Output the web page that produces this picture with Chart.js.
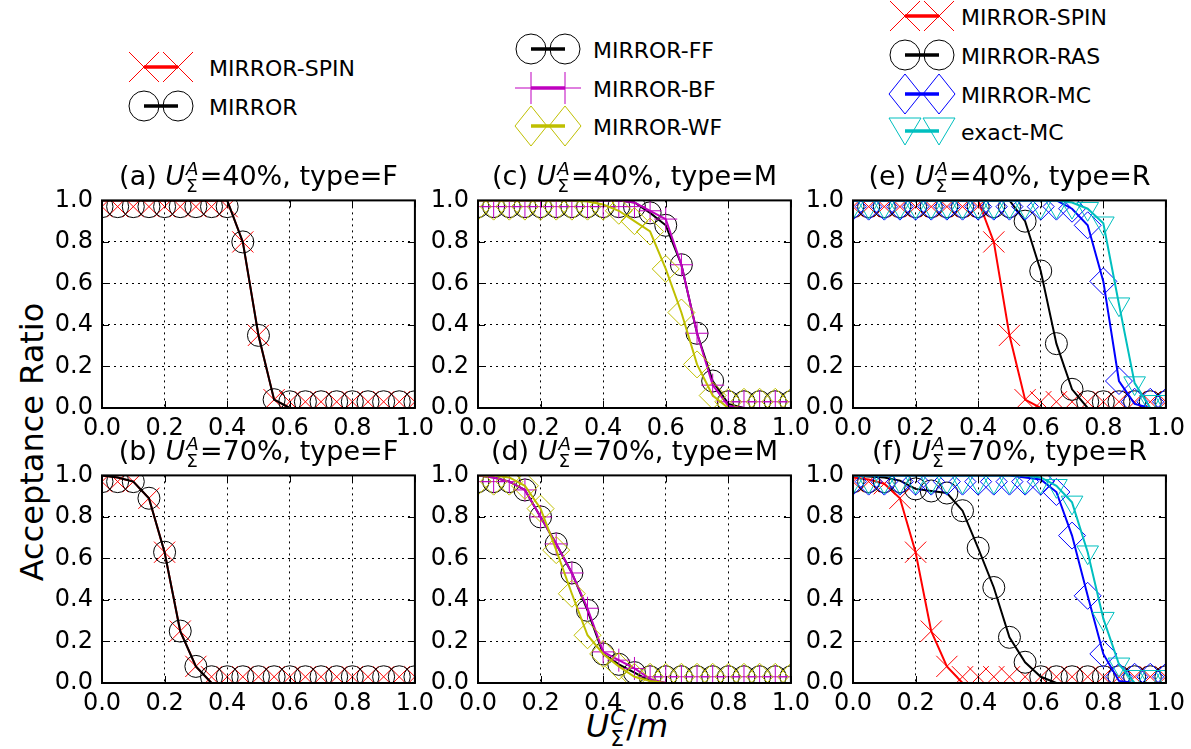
<!DOCTYPE html>
<html>
<head>
<meta charset="utf-8">
<script src="https://cdn.jsdelivr.net/npm/chart.js@4.4.1/dist/chart.umd.min.js"></script>
<style>
  body { margin: 0; background: #fff; }
  #fig { position: relative; width: 1191px; height: 749px; overflow: hidden; font-family: "DejaVu Sans", sans-serif; color: #000; }
  canvas { position: absolute; }
  .title { position: absolute; text-align: center; font-size: 27px; line-height: 30px; white-space: nowrap; }
  .ss { display: inline-block; vertical-align: -0.42em; font-size: 0.68em; line-height: 0.95; margin: 0 1px; text-align: left; }
  .ss span { display: block; }
  .ss .up { font-style: italic; }
  .leg { position: absolute; font-size: 22px; white-space: nowrap; }
  .leg .row { position: absolute; left: 0; height: 40px; display: flex; align-items: center; }
  #ylab { position: absolute; left: 32px; top: 442px; font-size: 32px; transform: translate(-50%, -50%) rotate(-90deg); white-space: nowrap; }
  #xlab { position: absolute; left: 627px; top: 708px; font-size: 32px; line-height: 37px; transform: translateX(-50%); white-space: nowrap; }
</style>
</head>
<body>
<div id="fig">
  <div id="ylab">Acceptance Ratio</div>
  <div id="xlab"><i>U</i><span class="ss"><span class="up">C</span><span>Σ</span></span>/<i>m</i></div>
</div>
<script>
// x positions of the samples (U_Σ^C / m)
const xs = [0, 0.05, 0.1, 0.15, 0.2, 0.25, 0.3, 0.35, 0.4, 0.45, 0.5, 0.55, 0.6, 0.65, 0.7, 0.75, 0.8, 0.85, 0.9, 0.95, 1.0];
const tickVals = [0, 0.2, 0.4, 0.6, 0.8, 1.0];

// (a) U_A = 40%, type F
const spinA   = [1, 1, 1, 1, 1, 1, 1, 1, 1, 0.8, 0.35, 0.04, 0, 0, 0, 0, 0, 0, 0, 0, 0];
const mirrorA = [1, 1, 1, 1, 1, 1, 1, 1, 1, 0.8, 0.35, 0.04, 0, 0, 0, 0, 0, 0, 0, 0, 0];
// (b) U_A = 70%, type F
const spinB   = [1, 0.99, 0.97, 0.89, 0.63, 0.25, 0.08, 0, 0, 0, 0, 0, 0, 0, 0, 0, 0, 0, 0, 0, 0];
const mirrorB = [1, 0.99, 0.97, 0.89, 0.63, 0.25, 0.08, 0, 0, 0, 0, 0, 0, 0, 0, 0, 0, 0, 0, 0, 0];
// (c) U_A = 40%, type M
const ffC = [1, 1, 1, 1, 1, 1, 1, 1, 1, 1, 0.99, 0.94, 0.88, 0.69, 0.36, 0.13, 0.02, 0, 0, 0, 0];
const bfC = [1, 1, 1, 1, 1, 1, 1, 1, 1, 1, 0.99, 0.95, 0.91, 0.69, 0.36, 0.11, 0.01, 0, 0, 0, 0];
const wfC = [1, 1, 1, 1, 1, 1, 1, 0.995, 0.98, 0.95, 0.9, 0.85, 0.67, 0.46, 0.21, 0.06, 0, 0, 0, 0, 0];
// (d) U_A = 70%, type M
const ffD = [1, 0.99, 0.97, 0.93, 0.8, 0.67, 0.53, 0.35, 0.14, 0.09, 0.05, 0.01, 0, 0, 0, 0, 0, 0, 0, 0, 0];
const bfD = [1, 0.99, 0.97, 0.93, 0.8, 0.67, 0.53, 0.36, 0.15, 0.11, 0.07, 0.02, 0, 0, 0, 0, 0, 0, 0, 0, 0];
const wfD = [1, 1, 0.99, 0.95, 0.84, 0.64, 0.43, 0.23, 0.14, 0.08, 0.03, 0.01, 0, 0, 0, 0, 0, 0, 0, 0, 0];
// (e) U_A = 40%, type R
const spinE  = [1, 1, 1, 1, 1, 1, 1, 1, 1, 0.8, 0.35, 0.04, 0, 0, 0, 0, 0, 0, 0, 0, 0];
const rasE   = [1, 1, 1, 1, 1, 1, 1, 1, 1, 1, 1, 0.9, 0.66, 0.31, 0.09, 0, 0, 0, 0, 0, 0];
const mcE    = [1, 1, 1, 1, 1, 1, 1, 1, 1, 1, 1, 1, 1, 1, 0.96, 0.88, 0.61, 0.13, 0.02, 0, 0];
const exactE = [1, 1, 1, 1, 1, 1, 1, 1, 1, 1, 1, 1, 1, 1, 0.99, 0.96, 0.89, 0.5, 0.12, 0, 0];
// (f) U_A = 70%, type R
const spinF  = [0.99, 0.98, 0.96, 0.89, 0.63, 0.25, 0.08, 0, 0, 0, 0, 0, 0, 0, 0, 0, 0, 0, 0, 0, 0];
const rasF   = [1, 0.995, 0.99, 0.975, 0.935, 0.925, 0.915, 0.83, 0.65, 0.46, 0.22, 0.1, 0.03, 0, 0, 0, 0, 0, 0, 0, 0];
const mcF    = [1, 1, 1, 1, 1, 1, 1, 1, 1, 1, 1, 0.99, 0.98, 0.92, 0.71, 0.42, 0.14, 0.01, 0, 0, 0];
const exactF = [1, 1, 1, 1, 1, 1, 1, 1, 1, 1, 1, 1, 0.99, 0.95, 0.87, 0.63, 0.31, 0.09, 0, 0, 0];

const RED = '#ff0000', BLACK = '#000000', MAG = '#bf00bf', YEL = '#bfbf00', BLUE = '#0000ff', CYAN = '#00bfbf';

// marker look (matplotlib x, o, +, D, v)
const MARKERS = {
  x: { pointStyle: 'crossRot', pointRadius: 15, pointRotation: 0 },
  o: { pointStyle: 'circle', pointRadius: 11, pointRotation: 0 },
  '+': { pointStyle: 'cross', pointRadius: 11.5, pointRotation: 0 },
  D: { pointStyle: 'rectRot', pointRadius: 13.5, pointRotation: 0 },
  v: { pointStyle: 'triangle', pointRadius: 12.5, pointRotation: 180 },
};

const colL = [102, 478, 853];
const rowT = [197, 472];
const AXW = 313, AXH = 211;

const panels = [
  { tag: '(a)', pct: '40%', type: 'F', col: 0, row: 0, series: [
    { name: 'MIRROR-SPIN', vals: spinA, color: RED, m: 'x' },
    { name: 'MIRROR', vals: mirrorA, color: BLACK, m: 'o' }] },
  { tag: '(b)', pct: '70%', type: 'F', col: 0, row: 1, series: [
    { name: 'MIRROR-SPIN', vals: spinB, color: RED, m: 'x' },
    { name: 'MIRROR', vals: mirrorB, color: BLACK, m: 'o' }] },
  { tag: '(c)', pct: '40%', type: 'M', col: 1, row: 0, series: [
    { name: 'MIRROR-FF', vals: ffC, color: BLACK, m: 'o' },
    { name: 'MIRROR-BF', vals: bfC, color: MAG, m: '+' },
    { name: 'MIRROR-WF', vals: wfC, color: YEL, m: 'D' }] },
  { tag: '(d)', pct: '70%', type: 'M', col: 1, row: 1, series: [
    { name: 'MIRROR-FF', vals: ffD, color: BLACK, m: 'o' },
    { name: 'MIRROR-BF', vals: bfD, color: MAG, m: '+' },
    { name: 'MIRROR-WF', vals: wfD, color: YEL, m: 'D' }] },
  { tag: '(e)', pct: '40%', type: 'R', col: 2, row: 0, series: [
    { name: 'MIRROR-SPIN', vals: spinE, color: RED, m: 'x' },
    { name: 'MIRROR-RAS', vals: rasE, color: BLACK, m: 'o' },
    { name: 'MIRROR-MC', vals: mcE, color: BLUE, m: 'D' },
    { name: 'exact-MC', vals: exactE, color: CYAN, m: 'v' }] },
  { tag: '(f)', pct: '70%', type: 'R', col: 2, row: 1, series: [
    { name: 'MIRROR-SPIN', vals: spinF, color: RED, m: 'x' },
    { name: 'MIRROR-RAS', vals: rasF, color: BLACK, m: 'o' },
    { name: 'MIRROR-MC', vals: mcF, color: BLUE, m: 'D' },
    { name: 'exact-MC', vals: exactF, color: CYAN, m: 'v' }] },
];

// markers sit just inside the frame when the value is at 0 or 1
const markerY = v => Math.min(0.97, Math.max(0.03, v));

// frame on all four sides + inward ticks, like matplotlib classic
const framePlugin = {
  id: 'frame',
  afterDatasetsDraw(chart) {
    const { ctx, chartArea: a, scales: { x, y } } = chart;
    ctx.save();
    ctx.strokeStyle = '#000';
    ctx.lineWidth = 1;
    ctx.beginPath();
    x.ticks.forEach(t => {
      const px = Math.round(x.getPixelForValue(t.value)) + 0.5;
      ctx.moveTo(px, a.bottom); ctx.lineTo(px, a.bottom - 7);
      ctx.moveTo(px, a.top); ctx.lineTo(px, a.top + 7);
    });
    y.ticks.forEach(t => {
      const py = Math.round(y.getPixelForValue(t.value)) + 0.5;
      ctx.moveTo(a.left, py); ctx.lineTo(a.left + 7, py);
      ctx.moveTo(a.right, py); ctx.lineTo(a.right - 7, py);
    });
    ctx.stroke();
    ctx.lineWidth = 2;
    ctx.strokeRect(a.left, a.top, a.right - a.left, a.bottom - a.top);
    ctx.restore();
  }
};

const fig = document.getElementById('fig');
const PADL = 70, PADT = 20, PADR = 25, PADB = 40;

function makePanel(p) {
  const axL = colL[p.col], axT = rowT[p.row];
  const cv = document.createElement('canvas');
  cv.width = PADL + AXW + PADR;
  cv.height = PADT + AXH + PADB;
  cv.style.left = (axL - PADL) + 'px';
  cv.style.top = (axT - PADT) + 'px';
  fig.appendChild(cv);

  const title = document.createElement('div');
  title.className = 'title';
  title.style.left = (axL - 20) + 'px';
  title.style.width = (AXW + 40) + 'px';
  title.style.top = (axT - 37) + 'px';
  title.innerHTML = p.tag + ' <i>U</i><span class="ss"><span class="up">A</span><span>Σ</span></span>=' + p.pct + ', type=' + p.type;
  fig.appendChild(title);

  const datasets = [];
  p.series.forEach((s, i) => {
    datasets.push({
      label: s.name,
      data: xs.map((x, k) => ({ x: x, y: s.vals[k] })),
      showLine: true,
      borderColor: s.color,
      borderWidth: 2,
      pointRadius: 0,
      tension: 0,
      clip: 0,
      order: -2 * i,
    });
    datasets.push(Object.assign({
      label: s.name + ' markers',
      data: xs.map((x, k) => ({ x: x, y: markerY(s.vals[k]) })),
      showLine: false,
      borderColor: s.color,
      pointBorderColor: s.color,
      pointBackgroundColor: 'rgba(0,0,0,0)',
      pointBorderWidth: 1,
      clip: 0,
      order: -2 * i - 1,
    }, MARKERS[s.m]));
  });

  const tickFont = { family: 'DejaVu Sans', size: 24 };
  new Chart(cv, {
    type: 'scatter',
    data: { datasets },
    options: {
      responsive: false,
      animation: false,
      events: [],
      layout: { padding: { top: PADT, right: PADR, left: 0, bottom: 0 } },
      plugins: { legend: { display: false }, tooltip: { enabled: false } },
      scales: {
        x: {
          type: 'linear', min: 0, max: 1,
          afterFit: s => { s.height = PADB; },
          afterBuildTicks: s => { s.ticks = tickVals.map(v => ({ value: v })); },
          ticks: { padding: 6, color: '#000', font: tickFont, maxRotation: 0, callback: v => v.toFixed(1) },
          grid: { color: '#000', lineWidth: 1, drawTicks: false },
          border: { display: false, dash: [2, 4] },
        },
        y: {
          type: 'linear', min: 0, max: 1,
          afterFit: s => { s.width = PADL; },
          afterBuildTicks: s => { s.ticks = tickVals.map(v => ({ value: v })); },
          ticks: { padding: 9, color: '#000', font: tickFont, callback: v => v.toFixed(1) },
          grid: { color: '#000', lineWidth: 1, drawTicks: false },
          border: { display: false, dash: [2, 4] },
        },
      },
    },
    plugins: [framePlugin],
  });
}

panels.forEach(makePanel);

// legends above each column (two markers joined by a line)
function iconSvg(color, m, gap) {
  const c1 = 17, c2 = 51, cy = 20;
  let mk = '';
  [c1, c2].forEach(cx => {
    if (m === 'x') mk += `<path d="M${cx - 15} ${cy - 15} L${cx + 15} ${cy + 15} M${cx - 15} ${cy + 15} L${cx + 15} ${cy - 15}" />`;
    if (m === 'o') mk += `<circle cx="${cx}" cy="${cy}" r="15" />`;
    if (m === '+') mk += `<path d="M${cx - 16} ${cy} L${cx + 16} ${cy} M${cx} ${cy - 16} L${cx} ${cy + 16}" />`;
    if (m === 'D') mk += `<path d="M${cx} ${cy - 20} L${cx + 16} ${cy} L${cx} ${cy + 20} L${cx - 16} ${cy} Z" />`;
    if (m === 'v') mk += `<path d="M${cx - 16} ${cy - 13} L${cx + 16} ${cy - 13} L${cx} ${cy + 14} Z" />`;
  });
  return `<svg style="margin-right:${gap}px" width="70" height="42" viewBox="0 0 70 42"><line x1="${c1}" y1="${cy}" x2="${c2}" y2="${cy}" stroke="${color}" stroke-width="3.5"/>` +
    `<g fill="none" stroke="${color}" stroke-width="1">${mk}</g></svg>`;
}

const legends = [
  { left: 127, gap: 12, tops: [48, 87], panel: 0 },
  { left: 514, gap: 9, tops: [30, 69, 107], panel: 2 },
  { left: 888, gap: 3, tops: [-3, 36, 75, 112], panel: 4 },
];
legends.forEach(L => {
  const box = document.createElement('div');
  box.className = 'leg';
  box.style.left = L.left + 'px';
  box.style.top = '0px';
  panels[L.panel].series.forEach((s, i) => {
    const row = document.createElement('div');
    row.className = 'row';
    row.style.top = L.tops[i] + 'px';
    row.innerHTML = iconSvg(s.color, s.m, L.gap) + '<span>' + s.name + '</span>';
    box.appendChild(row);
  });
  fig.appendChild(box);
});
</script>
</body>
</html>
